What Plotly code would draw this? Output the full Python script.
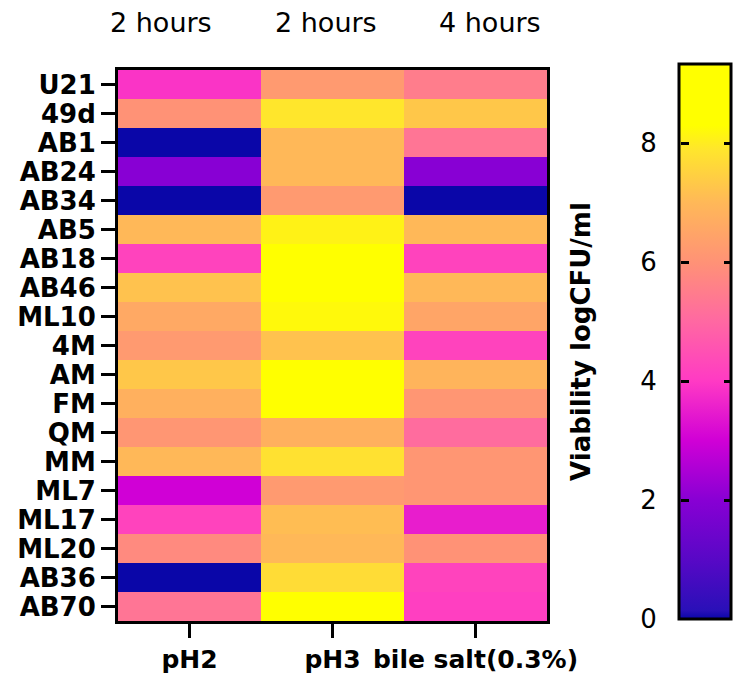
import plotly.graph_objects as go

# ---- data ----
strains = ["U21", "49d", "AB1", "AB24", "AB34", "AB5", "AB18", "AB46", "ML10", "4M",
           "AM", "FM", "QM", "MM", "ML7", "ML17", "ML20", "AB36", "AB70"]
conditions = ["pH2", "pH3", "bile salt(0.3%)"]
durations = ["2 hours", "2 hours", "4 hours"]

ph2 = [3.9, 6.0, 0.0, 2.0, 0.0, 7.0, 4.2, 7.2, 6.6, 6.2, 7.3, 6.8, 6.1, 7.0, 3.0, 4.2, 5.8, 0.0, 5.3]
ph3 = [6.2, 7.9, 7.0, 7.0, 6.2, 8.1, 8.6, 8.6, 8.2, 7.2, 8.6, 8.6, 6.8, 7.8, 6.2, 7.1, 7.0, 7.7, 8.5]
bile = [5.5, 7.3, 5.3, 2.0, 0.0, 7.0, 4.2, 7.0, 6.5, 4.2, 6.9, 6.1, 5.1, 6.1, 6.1, 3.5, 6.0, 4.2, 4.1]

cbar_ticks = [0, 2, 4, 6, 8]
zmin, zmax = 0.0, 9.33

# ---- colour scale (value -> colour) ----
stop_vals = [0.0, 0.15, 1.0, 2.0, 3.0, 4.0, 5.0, 6.0, 7.0, 7.9, 8.3, 9.33]
stop_cols = ["#0a06a8", "#2a10b8", "#5808c6", "#8800d4", "#d000d6", "#ff3ac4",
             "#ff68a2", "#ff9276", "#ffb858", "#ffe62c", "#ffff00", "#ffff00"]
colorscale = [[v / zmax, c] for v, c in zip(stop_vals, stop_cols)]

z = [[a, b, c] for a, b, c in zip(ph2, ph3, bile)]

# the page body adds an 8px margin, so reference pixel p sits at p-8 in the figure
W, H, OFF = 745, 679, 8
def px_x(p): return (p - OFF) / W
def px_y(p): return 1 - (p - OFF) / H

FONT = "DejaVu Sans"

fig = go.Figure()
fig.add_trace(go.Heatmap(
    z=z, x=conditions, y=strains,
    zmin=zmin, zmax=zmax, colorscale=colorscale,
    xgap=0, ygap=0,
    colorbar=dict(
        x=px_x(679), xanchor="left", xpad=0,
        y=px_y(64), yanchor="top", ypad=0,
        len=555, lenmode="pixels",
        thickness=52, thicknessmode="pixels",
        outlinewidth=3, outlinecolor="black",
        ticks="inside", ticklen=8, tickwidth=3, tickcolor="black",
        tickvals=cbar_ticks[1:], showticklabels=False,
    ),
))
# transparent second scale (no visible points): only draws the tick marks
# on the left edge of the colour bar
fig.add_trace(go.Scatter(
    x=[None], y=[None], mode="markers", showlegend=False, hoverinfo="skip",
    xaxis="x2", yaxis="y2",
    marker=dict(
        color=[zmin], cmin=zmin, cmax=zmax,
        colorscale=[[0, "rgba(0,0,0,0)"], [1, "rgba(0,0,0,0)"]],
        showscale=True,
        colorbar=dict(
            x=px_x(680), xanchor="left", xpad=0,
            y=px_y(64), yanchor="top", ypad=0,
            len=555, lenmode="pixels",
            thickness=1, thicknessmode="pixels",
            outlinewidth=0,
            ticks="outside", ticklen=8, tickwidth=3, tickcolor="black",
            tickvals=cbar_ticks[1:], showticklabels=False,
        ),
    ),
))

fig.update_layout(
    width=W, height=H,
    margin=dict(l=0, r=0, t=0, b=0),
    paper_bgcolor="white", plot_bgcolor="white",
    xaxis=dict(
        domain=[px_x(118), px_x(547)], anchor="y",
        tickmode="array", tickvals=conditions,
        tickfont=dict(family=FONT, size=25, color="black", weight="bold"),
        ticks="outside", ticklen=14, tickwidth=3, tickcolor="black",
        showline=True, linewidth=3, linecolor="black", mirror=True,
        showgrid=False, zeroline=False, automargin=False, fixedrange=True,
    ),
    yaxis=dict(
        domain=[px_y(621), px_y(70)], anchor="x",
        autorange="reversed",
        tickmode="array", tickvals=strains,
        tickfont=dict(family=FONT, size=26, color="black", weight="bold"),
        ticks="outside", ticklen=14, tickwidth=3, tickcolor="black",
        showline=True, linewidth=3, linecolor="black", mirror=True,
        showgrid=False, zeroline=False, automargin=False, fixedrange=True,
    ),
    xaxis2=dict(domain=[px_x(679), px_x(734)], anchor="y2", visible=False,
                range=[0, 1], fixedrange=True),
    yaxis2=dict(
        domain=[px_y(619), px_y(64)], anchor="x2", side="left",
        range=[zmin, zmax], tickmode="array", tickvals=cbar_ticks,
        tickfont=dict(family=FONT, size=26, color="black"),
        ticks="outside", ticklen=16, tickcolor="rgba(0,0,0,0)",
        showline=False, showgrid=False, zeroline=False, automargin=False,
        fixedrange=True,
        title=dict(text="Viability logCFU/ml", standoff=42,
                   font=dict(family=FONT, size=26, color="black", weight="bold")),
    ),
)

for xc, label in zip([161, 326, 490], durations):
    fig.add_annotation(text=label, x=px_x(xc), y=px_y(22), xref="paper", yref="paper",
                       xanchor="center", yanchor="middle", showarrow=False,
                       font=dict(family=FONT, size=27, color="black"))

fig.write_html("out.html")
